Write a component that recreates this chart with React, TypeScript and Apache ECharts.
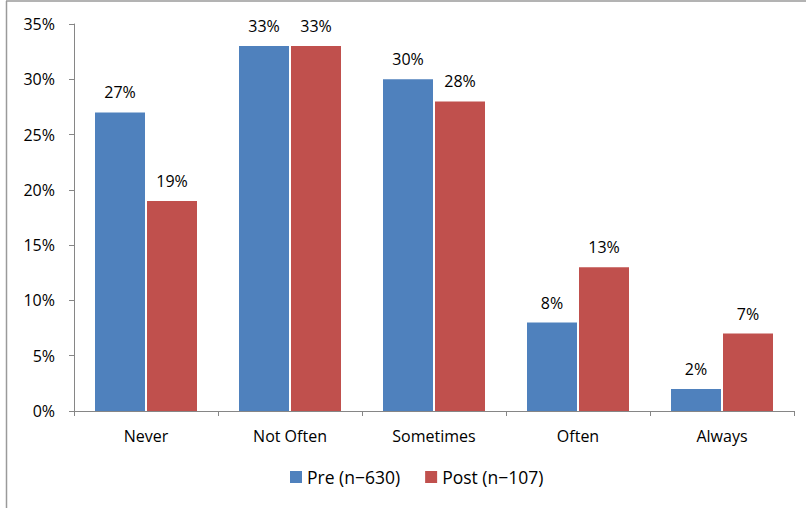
import React, { useEffect, useRef } from "react";
import * as echarts from "echarts";

const categories = ["Never", "Not Often", "Sometimes", "Often", "Always"];
const preValues = [27, 33, 30, 8, 2];
const postValues = [19, 33, 28, 13, 7];
const seriesNames = ["Pre (n\u2212630)", "Post (n\u2212107)"];
const yTicks = { min: 0, max: 35, interval: 5 };

const FONT = "'Open Sans', sans-serif";

export default function App() {
  const ref = useRef<HTMLDivElement>(null);
  useEffect(() => {
    if (!ref.current) return;
    const chart = echarts.init(ref.current, null, { renderer: "svg" });
    const label = {
      show: true,
      position: "top",
      distance: 12,
      color: "#000",
      fontFamily: FONT,
      fontSize: 16,
      formatter: "{c}%",
    };
    chart.setOption({
      animation: false,
      backgroundColor: "#fff",
      textStyle: { fontFamily: FONT },
      grid: { left: 74, right: 12, top: 24, bottom: 97, containLabel: false },
      legend: {
        bottom: 17,
        left: 285,
        itemWidth: 12,
        itemHeight: 12,
        itemGap: 25,
        icon: "rect",
        textStyle: { fontFamily: FONT, fontSize: 17.5, color: "#000" },
        data: seriesNames,
      },
      xAxis: {
        type: "category",
        data: categories,
        axisLine: { lineStyle: { color: "#868686" } },
        axisTick: { show: true, length: 5, lineStyle: { color: "#868686" } },
        axisLabel: { color: "#000", fontFamily: FONT, fontSize: 16, margin: 17 },
      },
      yAxis: {
        type: "value",
        min: yTicks.min,
        max: yTicks.max,
        interval: yTicks.interval,
        axisLine: { show: true, lineStyle: { color: "#868686" } },
        axisTick: { show: true, length: 5, lineStyle: { color: "#868686" } },
        splitLine: { show: false },
        axisLabel: { color: "#000", fontFamily: FONT, fontSize: 16, margin: 19, formatter: "{value}%" },
      },
      series: [
        {
          name: seriesNames[0],
          type: "bar",
          data: preValues,
          barWidth: 50,
          barGap: "4%",
          itemStyle: { color: "#4F81BD" },
          label,
        },
        {
          name: seriesNames[1],
          type: "bar",
          data: postValues,
          barWidth: 50,
          barGap: "4%",
          itemStyle: { color: "#C0504D" },
          label,
        },
      ],
      graphic: [
        { type: "line", shape: { x1: 6.5, y1: 1, x2: 6.5, y2: 508 }, style: { stroke: "#9a9a9a", lineWidth: 1.5 } },
        { type: "line", shape: { x1: 6, y1: 1, x2: 806, y2: 1 }, style: { stroke: "#9a9a9a", lineWidth: 1.5 } },
      ],
    });
    return () => chart.dispose();
  }, []);
  return <div ref={ref} style={{ position: "fixed", left: 0, top: 0, width: 806, height: 508 }} />;
}
